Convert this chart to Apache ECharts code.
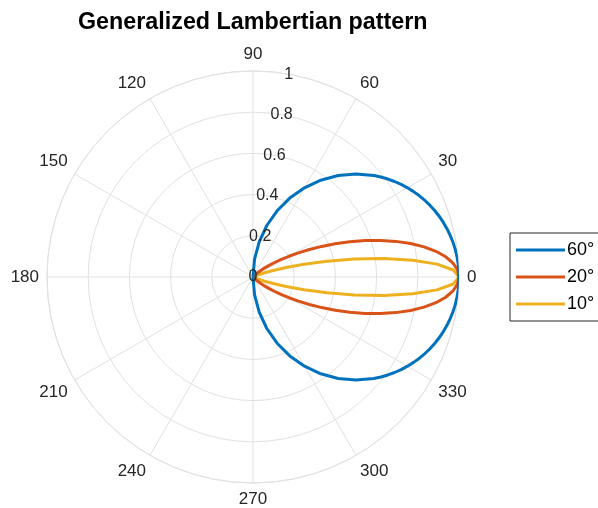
<!DOCTYPE html>
<html>
<head>
<meta charset="utf-8">
<style>
  html, body { margin: 0; padding: 0; background: #fff; }
  #chart { width: 598px; height: 508px; }
</style>
<script src="https://cdn.jsdelivr.net/npm/echarts@6/dist/echarts.min.js"></script>
</head>
<body>
<div id="chart"></div>
<script>
const angles = [
  -90, -85, -80, -75, -70, -65, -60, -55, -50, -45,
  -40, -38, -36, -34, -32, -30, -28, -26, -24, -22, -20, -18, -16, -14, -12, -10, -8, -6, -4, -2,
  0,
  2, 4, 6, 8, 10, 12, 14, 16, 18, 20, 22, 24, 26, 28, 30, 32, 34, 36, 38, 40,
  45, 50, 55, 60, 65, 70, 75, 80, 85, 90
];

const seriesNames = ['60°', '20°', '10°'];

// normalised intensity for each semi-angle
const r60 = [
  0, 0.0872, 0.1736, 0.2588, 0.3420, 0.4226, 0.5, 0.5736, 0.6428, 0.7071,
  0.7660, 0.7880, 0.8090, 0.8290, 0.8480, 0.8660, 0.8829, 0.8988, 0.9135, 0.9272, 0.9397, 0.9511, 0.9613, 0.9703, 0.9781, 0.9848, 0.9903, 0.9945, 0.9976, 0.9994,
  1,
  0.9994, 0.9976, 0.9945, 0.9903, 0.9848, 0.9781, 0.9703, 0.9613, 0.9511, 0.9397, 0.9272, 0.9135, 0.8988, 0.8829, 0.8660, 0.8480, 0.8290, 0.8090, 0.7880, 0.7660,
  0.7071, 0.6428, 0.5736, 0.5, 0.4226, 0.3420, 0.2588, 0.1736, 0.0872, 0
];
const r20 = [
  0, 0, 0, 0, 0, 0.0001, 0.0004, 0.0020, 0.0073, 0.0211,
  0.0513, 0.0703, 0.0943, 0.1238, 0.1593, 0.2013, 0.2498, 0.3045, 0.3651, 0.4306, 0.5, 0.5717, 0.6439, 0.7146, 0.7818, 0.8432, 0.8967, 0.9406, 0.9732, 0.9932,
  1,
  0.9932, 0.9732, 0.9406, 0.8967, 0.8432, 0.7818, 0.7146, 0.6439, 0.5717, 0.5, 0.4306, 0.3651, 0.3045, 0.2498, 0.2013, 0.1593, 0.1238, 0.0943, 0.0703, 0.0513,
  0.0211, 0.0073, 0.0020, 0.0004, 0.0001, 0, 0, 0, 0, 0
];
const r10 = [
  0, 0, 0, 0, 0, 0, 0, 0, 0, 0,
  0, 0, 0, 0.0002, 0.0006, 0.0015, 0.0036, 0.0080, 0.0167, 0.0326, 0.0598, 0.1031, 0.1671, 0.2553, 0.3677, 0.5, 0.6422, 0.7798, 0.8954, 0.9728,
  1,
  0.9728, 0.8954, 0.7798, 0.6422, 0.5, 0.3677, 0.2553, 0.1671, 0.1031, 0.0598, 0.0326, 0.0167, 0.0080, 0.0036, 0.0015, 0.0006, 0.0002, 0, 0, 0,
  0, 0, 0, 0, 0, 0, 0, 0, 0, 0
];

const colors = ['#0072BD', '#D95319', '#EDB120'];
const radii = [r60, r20, r10];

const font = 'Liberation Sans, Arial, Helvetica, sans-serif';
const gridColor = '#e1e1e1';
const tickColor = '#262626';

const chart = echarts.init(document.getElementById('chart'));

const series = seriesNames.map((name, i) => ({
  name: name,
  type: 'line',
  coordinateSystem: 'polar',
  polarIndex: 0,
  symbol: 'none',
  animation: false,
  z: 10 - i,
  lineStyle: { color: colors[i], width: 3 },
  itemStyle: { color: colors[i] },
  data: angles.map((a, k) => [radii[i][k], a])
}));

chart.setOption({
  backgroundColor: '#fff',
  animation: false,
  title: {
    text: 'Generalized Lambertian pattern',
    left: 78,
    top: 11,
    padding: 0,
    textStyle: { fontFamily: font, fontSize: 23.3, fontWeight: 'bold', color: '#000' }
  },
  legend: {
    data: seriesNames,
    orient: 'vertical',
    left: 510,
    top: 233,
    padding: [8, 40, 8, 6],
    itemGap: 9,
    itemWidth: 49,
    itemHeight: 3,
    icon: 'rect',
    borderColor: '#262626',
    borderWidth: 1,
    backgroundColor: '#fff',
    textStyle: { fontFamily: font, fontSize: 18, color: '#000', padding: [0, 0, 0, -3] }
  },
  polar: [
    { center: [253, 277], radius: 206 },
    { center: [253, 277], radius: 206 }
  ],
  angleAxis: [
    {
      polarIndex: 0,
      type: 'value',
      min: 0,
      max: 360,
      interval: 30,
      startAngle: 0,
      clockwise: false,
      axisLine: { show: true, lineStyle: { color: gridColor, width: 1 } },
      axisTick: { show: false },
      splitLine: { show: true, lineStyle: { color: gridColor, width: 1 } },
      axisLabel: {
        margin: 8,
        fontFamily: font,
        fontSize: 17,
        color: tickColor,
        formatter: v => (v === 360 ? '' : String(v))
      }
    },
    {
      polarIndex: 1,
      type: 'value',
      min: 0,
      max: 360,
      startAngle: 80,
      show: false
    }
  ],
  radiusAxis: [
    {
      polarIndex: 0,
      type: 'value',
      min: 0,
      max: 1,
      interval: 0.2,
      axisLine: { show: false },
      axisTick: { show: false },
      axisLabel: { show: false },
      splitLine: { show: true, lineStyle: { color: gridColor, width: 1 } }
    },
    {
      polarIndex: 1,
      type: 'value',
      min: 0,
      max: 1,
      interval: 0.2,
      z: 20,
      axisLine: { show: false },
      axisTick: { show: false },
      splitLine: { show: false },
      axisLabel: {
        margin: 0,
        rotate: 0,
        align: 'center',
        verticalAlign: 'middle',
        fontFamily: font,
        fontSize: 16,
        color: tickColor
      }
    }
  ],
  series: series
});
</script>
</body>
</html>
